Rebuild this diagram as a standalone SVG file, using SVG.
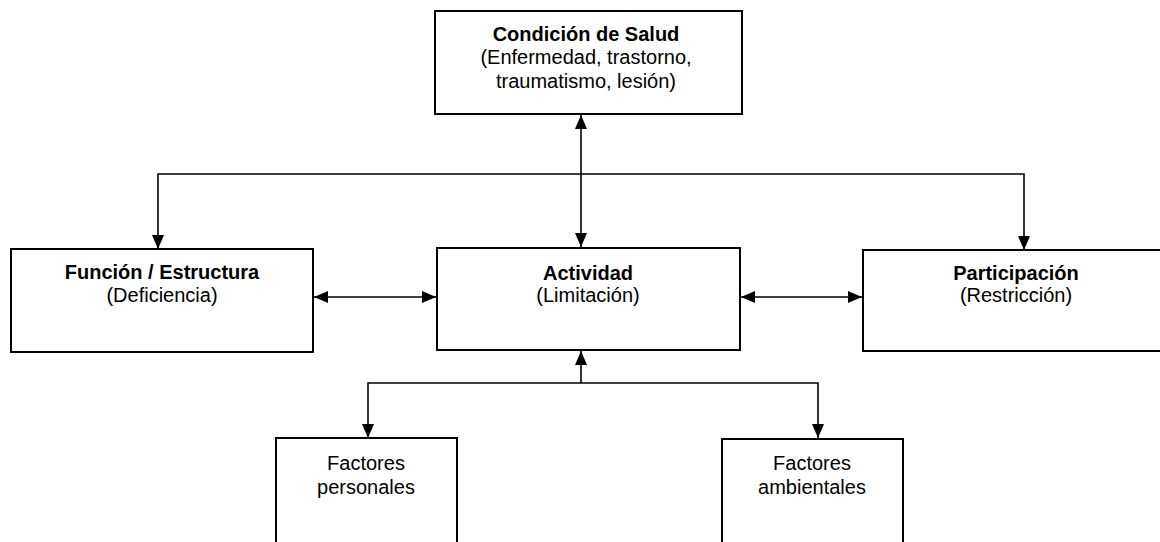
<svg xmlns="http://www.w3.org/2000/svg" width="1160" height="542" viewBox="0 0 1160 542">
<style>
.box{fill:#fff;stroke:#000;stroke-width:2}
.t{font-family:"Liberation Sans",Arial,sans-serif;font-size:20px;fill:#000;text-anchor:middle}
.b{font-weight:bold}
.c{fill:none;stroke:#000;stroke-width:1.6}
</style>
<defs>
<marker id="ah" viewBox="0 0 14 12" refX="14" refY="6" markerWidth="14" markerHeight="12" markerUnits="userSpaceOnUse" orient="auto-start-reverse">
<path d="M0,0 L14,6 L0,12 z" fill="#000"/>
</marker>
</defs>
<rect width="1160" height="542" fill="#fff"/>
<g id="connectors">
<line class="c" x1="581" y1="115" x2="581" y2="247" marker-start="url(#ah)" marker-end="url(#ah)"/>
<polyline class="c" points="158,249 158,174 1024,174 1024,250" marker-start="url(#ah)" marker-end="url(#ah)"/>
<line class="c" x1="314" y1="297" x2="436" y2="297" marker-start="url(#ah)" marker-end="url(#ah)"/>
<line class="c" x1="741" y1="297" x2="862" y2="297" marker-start="url(#ah)" marker-end="url(#ah)"/>
<line class="c" x1="581" y1="383" x2="581" y2="351" marker-end="url(#ah)"/>
<polyline class="c" points="368,438 368,383 818,383 818,438" marker-start="url(#ah)" marker-end="url(#ah)"/>
</g>
<g id="condicion">
<rect class="box" x="435" y="11" width="307" height="103"/>
<text class="t b" x="586" y="41">Condición de Salud</text>
<text class="t" x="586" y="64">(Enfermedad, trastorno,</text>
<text class="t" x="586" y="88">traumatismo, lesión)</text>
</g>
<g id="funcion">
<rect class="box" x="11" y="249" width="302" height="103"/>
<text class="t b" x="162" y="279">Función / Estructura</text>
<text class="t" x="162" y="302">(Deficiencia)</text>
</g>
<g id="actividad">
<rect class="box" x="437" y="248" width="303" height="102"/>
<text class="t b" x="588" y="280">Actividad</text>
<text class="t" x="588" y="302">(Limitación)</text>
</g>
<g id="participacion">
<rect class="box" x="863" y="250" width="320" height="101"/>
<text class="t b" x="1016" y="280">Participación</text>
<text class="t" x="1016" y="302">(Restricción)</text>
</g>
<g id="personales">
<rect class="box" x="276" y="438" width="181" height="120"/>
<text class="t" x="366" y="470">Factores</text>
<text class="t" x="366" y="494">personales</text>
</g>
<g id="ambientales">
<rect class="box" x="722" y="439" width="181" height="120"/>
<text class="t" x="812" y="470">Factores</text>
<text class="t" x="812" y="494">ambientales</text>
</g>
</svg>
